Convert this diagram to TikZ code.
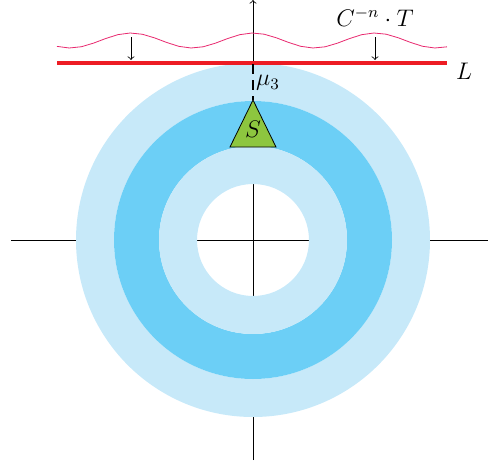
\documentclass[tikz,border=0pt]{standalone}
\usepackage{amsmath,amssymb}
\usetikzlibrary{positioning,calc}
\definecolor{ringlight}{RGB}{199,233,249}
\definecolor{ringdark}{RGB}{108,207,246}
\definecolor{wavered}{RGB}{232,40,110}
\definecolor{linered}{RGB}{237,28,36}
\definecolor{trigreen}{RGB}{141,198,63}

\begin{document}
\begin{tikzpicture}[x=0.5pt,y=-0.5pt,>=to,font=\large,
  ring/.style={even odd rule}]
  \useasboundingbox (0,0) rectangle (488,466);
  \coordinate (O) at (253,240);
  % axes
  \coordinate (xleft) at (11,240); \coordinate (xright) at (488,240);
  \coordinate (ybot) at (253,460); \coordinate (ytop) at (253,0);
  \draw (xleft) -- (xright);
  \draw[->] (ybot) -- (ytop);
  % rings
  \fill[ringlight,ring] (O) circle (88.5pt) circle (69.5pt);
  \fill[ringdark,ring] (O) circle (69.5pt) circle (47pt);
  \fill[ringlight,ring] (O) circle (47pt) circle (28pt);
  % source S
  \coordinate (apex) at (253,100);
  \draw[fill=trigreen] (apex) -- (276,147) -- (230,147) -- cycle;
  \node (S) at (253,129) {$S$};
  % line L and wave
  \coordinate (Lleft) at (57,63); \coordinate (Lright) at (447,63);
  \draw[linered,line width=2pt] (Lleft) -- (Lright);
  \node[right=1pt of Lright,yshift=-4pt] (L) {$L$};
  \draw[wavered,thin] plot[domain=57:447,samples=33] (\x,{40.5-7.5*cos(2.9508*(\x-253))});
  \node (CT) at (375,17) {$C^{-n}\cdot T$};
  \foreach \xx in {131,375} {
    \coordinate (w\xx) at (\xx,37); \coordinate (l\xx) at (\xx,60);
    \draw[->] (w\xx) -- (l\xx);
  }
  \coordinate (Ltop) at (253,64);
  \draw[semithick,dash pattern=on 5pt off 3pt] (Ltop) -- (apex);
  \node (mu) at (268,83) {$\mu_3$};
\end{tikzpicture}
\end{document}
